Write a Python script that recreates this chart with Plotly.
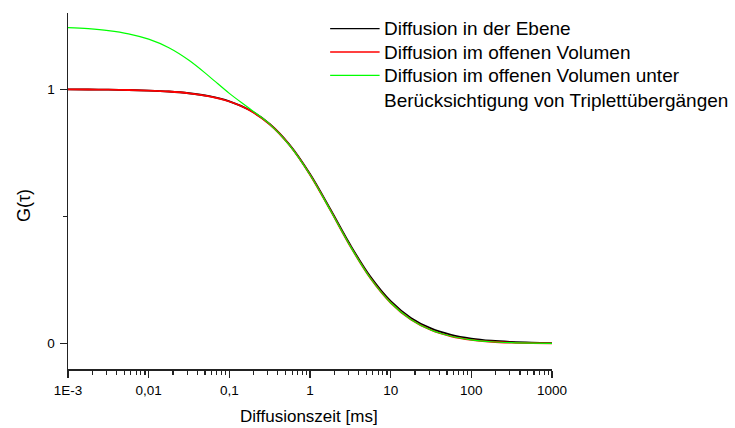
import plotly.graph_objects as go

# Diffusion time [ms] (sampled every quarter decade)
tau_ms = [0.001, 0.00178, 0.00316, 0.00562, 0.01, 0.0178, 0.0316, 0.0562,
          0.1, 0.178, 0.316, 0.562, 1.0, 1.78, 3.16, 5.62, 10.0, 17.8,
          31.6, 56.2, 100.0, 178.0, 316.0, 562.0, 1000.0]

g_ebene = [0.9995, 0.9991, 0.9984, 0.9972, 0.9950, 0.9912, 0.9844, 0.9727,
           0.9524, 0.9183, 0.8636, 0.7806, 0.6667, 0.5292, 0.3874, 0.2624,
           0.1667, 0.1009, 0.0595, 0.0344, 0.0196, 0.0111, 0.0063, 0.0035, 0.0020]

g_volumen = [0.9995, 0.9991, 0.9984, 0.9972, 0.9950, 0.9912, 0.9843, 0.9725,
             0.9520, 0.9177, 0.8625, 0.7789, 0.6641, 0.5256, 0.3827, 0.2568,
             0.1605, 0.0946, 0.0533, 0.0287, 0.0147, 0.0072, 0.0034, 0.0015, 0.0007]

g_triplett = [1.2425, 1.2382, 1.2308, 1.2182, 1.1970, 1.1634, 1.1141, 1.0509,
              0.9840, 0.9242, 0.8629, 0.7789, 0.6641, 0.5256, 0.3827, 0.2568,
              0.1605, 0.0946, 0.0533, 0.0287, 0.0147, 0.0072, 0.0034, 0.0015, 0.0007]

series_names = ["Diffusion in der Ebene",
                "Diffusion im offenen Volumen",
                "Diffusion im offenen Volumen unter<br>Berücksichtigung von Triplettübergängen"]
series_colors = ["#000000", "#ff0000", "#00ff00"]
series_widths = [1.8, 1.8, 1.2]

x_tickvals = [0.001, 0.01, 0.1, 1, 10, 100, 1000]
x_ticktext = ["1E-3", "0,01", "0,1", "1", "10", "100", "1000"]
y_tickvals = [0, 1]
y_ticktext = ["0", "1"]

FONT = "Liberation Sans, Arial, Helvetica, sans-serif"

fig = go.Figure()
for vals, name, col, w in zip([g_ebene, g_volumen, g_triplett], series_names,
                              series_colors, series_widths):
    fig.add_trace(go.Scatter(x=tau_ms, y=vals, mode="lines", name=name,
                             line=dict(color=col, width=w, shape="spline", smoothing=1.0),
                             showlegend=False, hoverinfo="skip"))

# plot-area geometry (pixels) used to place the hand-made legend and titles
W, H = 735, 428
L, R, T, B = 67.7, 552.0, 13.3, 369.3


def px_x(p):
    return (p - L) / (R - L)


def px_y(p):
    return (B - p) / (B - T)


LEG_FS = 19
legend_rows = [29.0, 52.3, 75.7]
annotations = []
shapes = []
for i, (name, col) in enumerate(zip(series_names, series_colors)):
    yc = legend_rows[i]
    shapes.append(dict(type="line", xref="paper", yref="paper",
                       x0=px_x(330), x1=px_x(379.5), y0=px_y(yc), y1=px_y(yc),
                       line=dict(color=col, width=1.3)))
    nlines = name.count("<br>") + 1
    ymid = yc + (nlines - 1) * LEG_FS * 1.3 / 2
    annotations.append(dict(text=name, xref="paper", yref="paper",
                            x=px_x(381.5), y=px_y(ymid), xanchor="left", yanchor="middle",
                            align="left", showarrow=False,
                            font=dict(family=FONT, size=LEG_FS, color="#000000")))

annotations.append(dict(text="G(τ)", xref="paper", yref="paper", x=px_x(23), y=px_y(206),
                        xanchor="center", yanchor="middle", textangle=-90, showarrow=False,
                        font=dict(family=FONT, size=18, color="#000000")))
annotations.append(dict(text="Diffusionszeit [ms]", xref="paper", yref="paper",
                        x=px_x(309), y=px_y(416.3), xanchor="center", yanchor="middle",
                        showarrow=False,
                        font=dict(family=FONT, size=17, color="#000000")))

fig.update_layout(
    width=W, height=H,
    margin=dict(l=L, r=W - R, t=T, b=H - B, pad=0),
    paper_bgcolor="white", plot_bgcolor="white",
    font=dict(family=FONT, color="#000000"),
    shapes=shapes, annotations=annotations,
    showlegend=False,
)

fig.update_xaxes(
    type="log", range=[-3, 3],
    tickvals=x_tickvals, ticktext=x_ticktext,
    ticks="outside", ticklen=7, tickwidth=1.3, tickcolor="#222222",
    minor=dict(ticks="outside", ticklen=4, tickwidth=1.2, tickcolor="#222222", dtick="D1"),
    showline=True, linecolor="#222222", linewidth=1.5,
    showgrid=False, zeroline=False, mirror=False,
    tickfont=dict(family=FONT, size=13.5, color="#000000"),
    ticklabelstandoff=1, automargin=False,
)

fig.update_yaxes(
    range=[-0.1, 1.3],
    tickvals=y_tickvals, ticktext=y_ticktext,
    ticks="outside", ticklen=7, tickwidth=1.3, tickcolor="#222222",
    minor=dict(ticks="outside", ticklen=4, tickwidth=1.2, tickcolor="#222222",
               tick0=0, dtick=0.5),
    showline=True, linecolor="#222222", linewidth=1.5,
    showgrid=False, zeroline=False, mirror=False,
    tickfont=dict(family=FONT, size=13.5, color="#000000"),
    ticklabelstandoff=2, automargin=False,
)

fig.write_html("out.html", config={"displayModeBar": False, "staticPlot": True},
               post_script="document.body.style.margin='0';document.body.style.overflow='hidden';")
